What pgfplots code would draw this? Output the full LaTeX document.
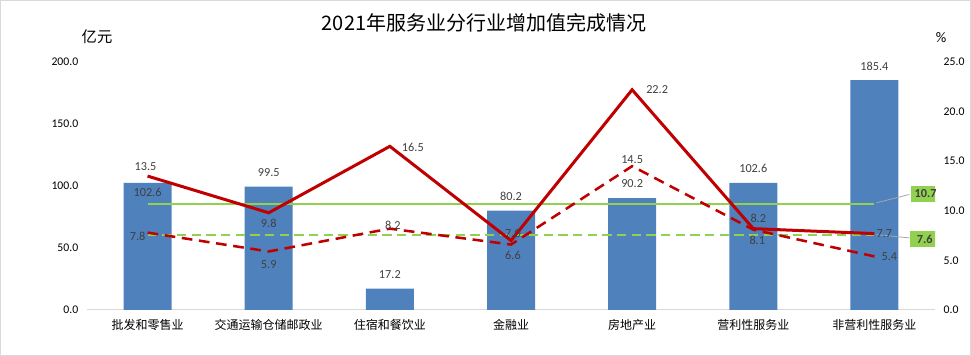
\documentclass[border=0pt]{standalone}
\usepackage{pgfplots}
\pgfplotsset{compat=1.18}
\usepackage{pgfplotstable}
\usepackage{fontspec}
\setmainfont{Carlito}
\newfontfamily\cjk{Noto Sans CJK SC}
\definecolor{barblue}{HTML}{4F81BD}
\definecolor{lred}{HTML}{C00000}
\definecolor{lgreen}{HTML}{92D050}
\definecolor{lblgray}{HTML}{404040}
\definecolor{axgray}{HTML}{D9D9D9}

% bars (亿元): x, value, label offset in px
\pgfplotstableread{
x y dx dy
0 102.6 0 -10
1 99.5 0 14.5
2 17.2 0 14.5
3 80.2 0 14.5
4 90.2 0 14.5
5 102.6 0 14.5
6 185.4 0 14
}\bars

\pgfplotstableread{
x y dx dy
0 13.5 -2 9.5
1 9.8 0 -11
2 16.5 23 -0.7
3 7.0 2 7
4 22.2 25 0
5 8.2 5 10.7
6 7.7 10 0
}\solidline

\pgfplotstableread{
x y dx dy
0 7.8 -10 -4
1 5.9 0 -13.5
2 8.2 3 3.7
3 6.6 2 -10.5
4 14.5 0 7
5 8.1 4 -10.5
6 5.4 15 0
}\dashline

\pgfplotstableread{
x y
0 10.7
6 10.7
}\avgsolid

\pgfplotstableread{
x y
0 7.6
6 7.6
}\avgdash

\pgfplotsset{
  base/.style={
    at={(65.25pt,34.5pt)}, anchor=south west,
    scale only axis, width=636pt, height=186pt,
    xmin=-0.5, xmax=6.5, ymin=0,
    axis line style={draw=none},
    major tick length=0pt, tick style={draw=none},
    ticklabel style={font=\fontsize{8.8}{10}\selectfont, text=black},
    /pgf/number format/.cd, fixed, fixed zerofill, precision=1, assume math mode=true,
    /pgfplots/.cd,
  },
  lbl/.style={
    draw=none, mark=none, forget plot,
    nodes near coords, nodes near coords align={center}, point meta=explicit,
    every node near coord/.append style={font=\fontsize{9.2}{10}\selectfont,
      text=lblgray, anchor=center, inner sep=0pt},
  },
}

\begin{document}
\begin{tikzpicture}
\draw[axgray, line width=0.75pt] (0.375pt,0.375pt) rectangle (727.875pt,266.625pt);

\begin{axis}[base, ymax=200, ytick={0,50,100,150,200},
  xtick={0,1,2,3,4,5,6},
  xticklabels={批发和零售业,交通运输仓储邮政业,住宿和餐饮业,金融业,房地产业,营利性服务业,非营利性服务业},
  xticklabel style={font={\fontsize{9}{11}\selectfont\cjk}, yshift=-3.5pt},
  yticklabel style={xshift=-3pt}]
\draw[axgray, line width=0.75pt] (rel axis cs:0,0) -- (rel axis cs:1,0);
\addplot[ybar, bar width=36pt, fill=barblue, draw=none] table[x=x,y=y] {\bars};
\addplot[lbl] table[x expr=\thisrow{x}+\thisrow{dx}/121.2, y expr=\thisrow{y}+\thisrow{dy}/1.24, meta=y] {\bars};
\end{axis}

\begin{axis}[base, ymax=25, ytick={0,5,10,15,20,25},
  xtick=\empty, yticklabel pos=right, yticklabel style={xshift=3pt}]
\addplot[lgreen, line width=1.6pt, mark=none] table[x=x,y=y] {\avgsolid};
\addplot[lgreen, line width=1.6pt, mark=none, dash pattern=on 7pt off 4pt] table[x=x,y=y] {\avgdash};
\addplot[lred, line width=2.25pt, mark=none] table[x=x,y=y] {\solidline};
\addplot[lred, line width=1.9pt, mark=none, dash pattern=on 8pt off 5pt] table[x=x,y=y] {\dashline};
\addplot[lbl] table[x expr=\thisrow{x}+\thisrow{dx}/121.2, y expr=\thisrow{y}+\thisrow{dy}/9.92, meta=y] {\solidline};
\addplot[lbl] table[x expr=\thisrow{x}+\thisrow{dx}/121.2, y expr=\thisrow{y}+\thisrow{dy}/9.92, meta=y] {\dashline};
\draw[gray!70, line width=0.6pt] (axis cs:6,10.7) ++(1.5pt,0.75pt) -- ++(24.75pt,6.3pt);
\node[fill=lgreen, anchor=west, minimum width=22.5pt, minimum height=12pt, inner sep=1pt,
  font=\bfseries\fontsize{9.2}{10}\selectfont, text=lblgray] at ([xshift=27pt,yshift=7.5pt]axis cs:6,10.7) {10.7};
\draw[gray!70, line width=0.6pt] (axis cs:6,7.6) ++(1.5pt,0pt) -- ++(24.75pt,-2.5pt);
\node[fill=lgreen, anchor=west, minimum width=22.5pt, minimum height=12pt, inner sep=1pt,
  font=\bfseries\fontsize{9.2}{10}\selectfont, text=lblgray] at ([xshift=26.25pt,yshift=-3.3pt]axis cs:6,7.6) {7.6};
\end{axis}

\node[font={\fontsize{15}{18}\selectfont\cjk}] at (363pt,249.75pt) {2021年服务业分行业增加值完成情况};
\node[font={\fontsize{11.5}{13}\selectfont\cjk}] at (72.75pt,239.25pt) {亿元};
\node[font=\fontsize{11}{13}\selectfont] at (705.75pt,238.5pt) {\%};
\end{tikzpicture}
\end{document}
